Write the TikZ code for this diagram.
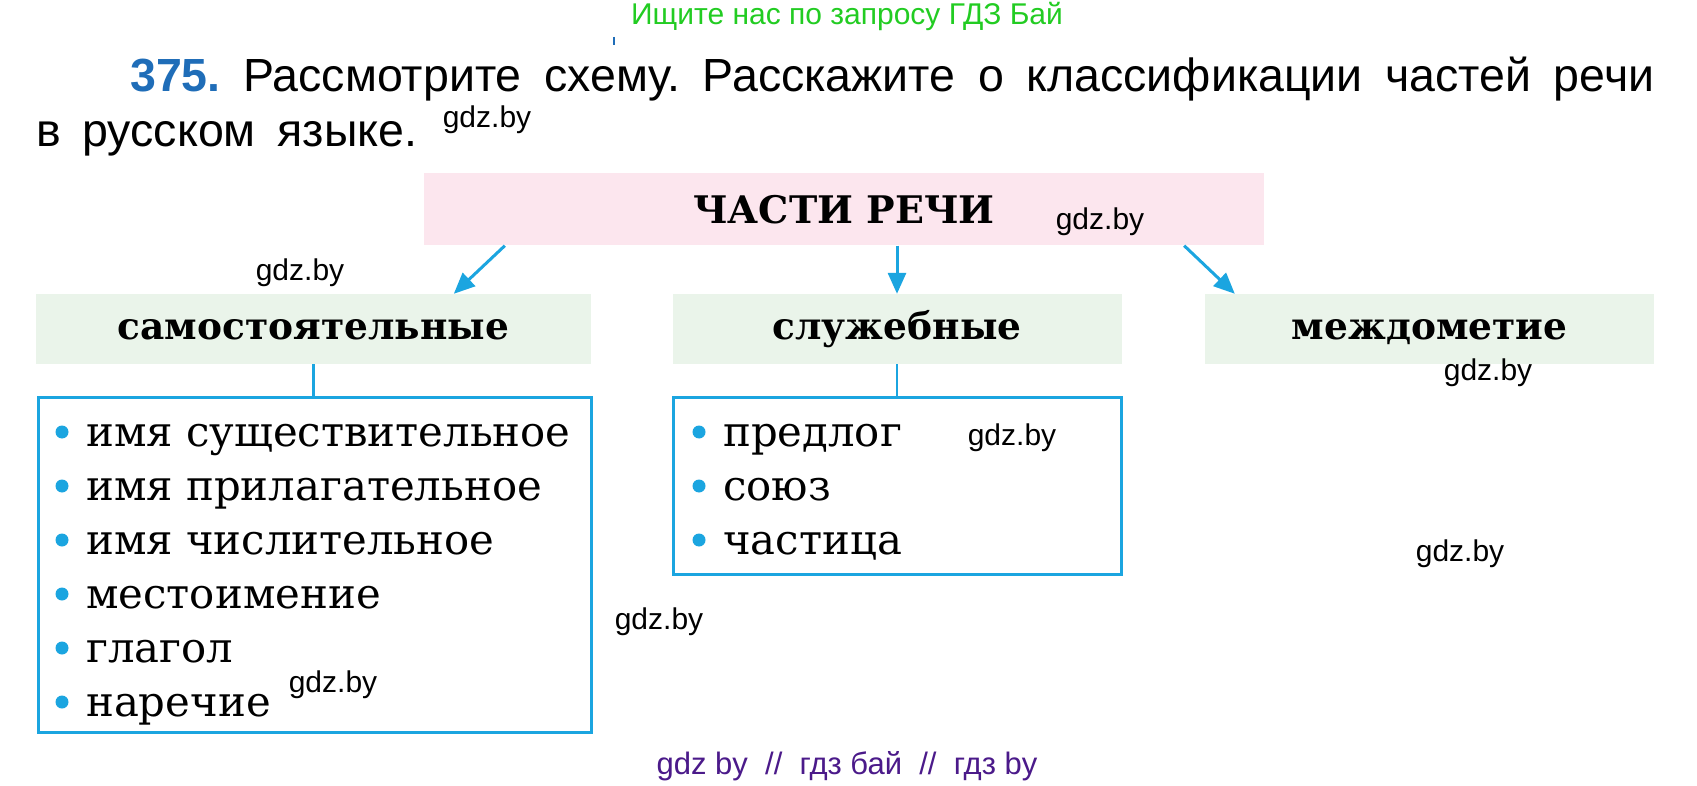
\documentclass[tikz,border=0pt]{standalone}
\usepackage{fontspec}
\setmainfont{DejaVu Serif}
\newfontfamily\instrfont{Liberation Sans}
\usetikzlibrary{arrows.meta, positioning, calc}
\definecolor{rechblue}{HTML}{1BA5E0}
\definecolor{rechnum}{HTML}{1F6DB8}
\definecolor{rechpink}{HTML}{FCE6EE}
\definecolor{rechgreen}{HTML}{EAF4EA}
\definecolor{rechlime}{HTML}{22CC22}
\definecolor{rechviolet}{HTML}{4B1A8A}
\frenchspacing
\tikzset{
  x=1pt, y=-1pt,
  >={Triangle[length=21pt, width=18pt]},
  headbox/.style={rectangle, fill=rechpink, minimum width=840pt, minimum height=72pt,
                  inner sep=0pt, font=\bfseries\fontsize{38}{40}\selectfont},
  catbox/.style={rectangle, fill=rechgreen, minimum height=70pt, inner sep=0pt,
                 text height=28pt, text depth=8pt,
                 font=\bfseries\fontsize{37.5}{40}\selectfont},
  listbox/.style={rectangle, draw=rechblue, line width=3pt, inner sep=0pt},
  flow/.style={->, line width=3pt, draw=rechblue},
  link/.style={line width=2.5pt, draw=rechblue},
  item/.style={anchor=base west, inner sep=0pt, font=\fontsize{41.8}{44}\selectfont},
  dot/.style={circle, fill=rechblue, minimum size=13pt, inner sep=0pt},
  instr/.style={anchor=base west, inner sep=0pt, font=\instrfont\fontsize{46.5}{50}\selectfont},
  wm/.style={inner sep=0pt, font=\instrfont\fontsize{30}{32}\selectfont},
}

\begin{document}
\begin{tikzpicture}
  \path[use as bounding box, fill=white] (0,0) rectangle (1697,786);
  % header of the page
  \node[anchor=base, inner sep=0pt, text=rechlime, font=\instrfont\fontsize{30}{32}\selectfont]
    (zapros) at (847,25) {Ищите нас по запросу ГДЗ Бай};
  \draw[rechnum, line width=2.5pt] (614,37) -- (614,45);
  \node[instr] (zadanie) at (130,92)
    {\makebox[1524pt][s]{\textcolor{rechnum}{\bfseries 375.} Рассмотрите схему. Расскажите о классификации частей речи}};
  \node[instr] (zadanie2) at (36,147) {\makebox[381pt][s]{в русском языке.}};

  % scheme
  \node[headbox] (chasti) at (844,209.5) {ЧАСТИ РЕЧИ};
  \node[catbox, minimum width=555pt] (samost) at (313.5,329) {самостоятельные};
  \node[catbox, minimum width=449pt] (sluzh) at (897,329) {служебные};
  \node[catbox, minimum width=449pt] (mezhd) at (1429.5,329) {междометие};

  \draw[flow] ([xshift=81pt]chasti.south west) -- ([xshift=418pt]samost.north west);
  \draw[flow] (chasti.south -| sluzh.north) -- (sluzh.north);
  \draw[flow] ([xshift=-80pt]chasti.south east) -- ([xshift=30pt]mezhd.north west);

  \node[listbox, minimum width=553pt, minimum height=335pt] (list1) at (314.5,564.5) {};
  \node[listbox, minimum width=448pt, minimum height=177pt] (list2) at (897,485.5) {};
  \draw[link] (samost.south) -- (samost.south |- list1.north);
  \draw[link] (sluzh.south) -- (sluzh.south |- list2.north);

  \foreach \w [count=\i] in {имя существительное, имя прилагательное, имя числительное,
                             местоимение, глагол, наречие}{
    \node[dot] (dotA\i) at (62,{432+54*(\i-1)}) {};
    \node[item] (itemA\i) at (86,{446+54*(\i-1)}) {\w};
  }
  \foreach \w [count=\i] in {предлог, союз, частица}{
    \node[dot] (dotB\i) at (699,{432+54*(\i-1)}) {};
    \node[item] (itemB\i) at (723,{446+54*(\i-1)}) {\w};
  }

  % watermarks
  \node[wm] (wm1) at (487,120) {gdz.by};
  \node[wm] (wm2) at (1100,222) {gdz.by};
  \node[wm] (wm3) at (300,273) {gdz.by};
  \node[wm] (wm4) at (1488,373) {gdz.by};
  \node[wm] (wm5) at (1012,438) {gdz.by};
  \node[wm] (wm6) at (659,622) {gdz.by};
  \node[wm] (wm7) at (1460,554) {gdz.by};
  \node[wm] (wm8) at (333,685) {gdz.by};
  \node[inner sep=0pt, text=rechviolet, font=\instrfont\fontsize{31}{33}\selectfont]
    (footer) at (847,766) {gdz by\ \ //\ \ гдз бай\ \ //\ \ гдз by};
\end{tikzpicture}
\end{document}
